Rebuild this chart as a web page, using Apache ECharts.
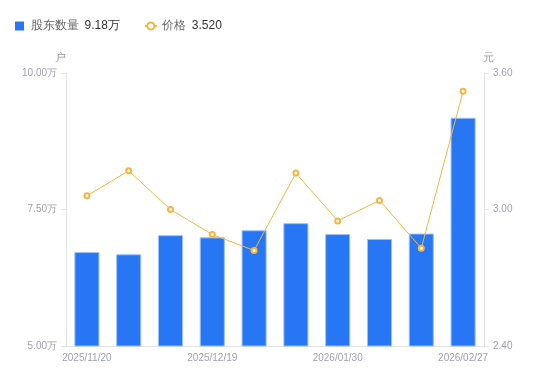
<!DOCTYPE html>
<html><head><meta charset="utf-8">
<script src="https://cdn.jsdelivr.net/npm/echarts@6/dist/echarts.min.js"></script>
<style>html,body{margin:0;padding:0;background:#fff}#c{width:550px;height:381px}</style>
</head><body><div id="c"></div>
<script>
var categories = ['2025/11/20','2025/11/28','2025/12/10','2025/12/19','2025/12/31','2026/01/16','2026/01/30','2026/02/10','2026/02/20','2026/02/27'];
var holders = [6.72, 6.68, 7.03, 6.99, 7.12, 7.25, 7.05, 6.96, 7.06, 9.18];
var prices = [3.06, 3.17, 3.00, 2.89, 2.82, 3.16, 2.95, 3.04, 2.83, 3.52];
var leftTicks = [5, 10];
var rightTicks = [2.4, 3.6];
var legendValues = {'股东数量': '9.18万', '价格': '3.520'};

var chart = echarts.init(document.getElementById('c'));
chart.setOption({
  animation: false,
  legend: {
    left: 10, top: 15, itemGap: 24, itemWidth: 12, itemHeight: 9,
    data: [{name: '股东数量', icon: 'path://M0,0L10,0L10,10L0,10Z', itemStyle: {borderWidth: 0}}, {name: '价格'}],
    formatter: function (n) { return '{n|' + n + '}{v|' + legendValues[n] + '}'; },
    textStyle: {
      rich: {
        n: {color: '#666', fontSize: 12, padding: [0, 6, 0, 0]},
        v: {color: '#333', fontSize: 12}
      }
    }
  },
  grid: {left: 66, right: 66, top: 73, bottom: 35},
  xAxis: {
    type: 'category', data: categories,
    axisLine: {lineStyle: {color: '#e3e3e3'}},
    axisTick: {show: false},
    axisLabel: {interval: 2, color: '#a0a0ae', fontSize: 10, margin: 7}
  },
  yAxis: [{
    type: 'value', name: '户', min: leftTicks[0], max: leftTicks[1], interval: 2.5,
    nameTextStyle: {color: '#999', fontSize: 11, padding: [0, 12, 0, 0]}, nameGap: 10,
    axisLine: {show: true, lineStyle: {color: '#e3e3e3'}},
    axisTick: {show: true, length: 5, lineStyle: {color: '#e3e3e3'}},
    splitLine: {show: false},
    axisLabel: {color: '#a0a0ae', fontSize: 10, margin: 9, formatter: function (v) { return v.toFixed(2) + '万'; }}
  }, {
    type: 'value', name: '元', min: rightTicks[0], max: rightTicks[1], interval: 0.6,
    nameTextStyle: {color: '#999', fontSize: 11, padding: [0, 0, 0, 8]}, nameGap: 10,
    axisLine: {show: true, lineStyle: {color: '#e3e3e3'}},
    axisTick: {show: true, length: 5, lineStyle: {color: '#e3e3e3'}},
    splitLine: {show: false},
    axisLabel: {color: '#a0a0ae', fontSize: 10, margin: 9, formatter: function (v) { return v.toFixed(2); }}
  }],
  series: [{
    name: '股东数量', type: 'bar', data: holders, barWidth: '60%', yAxisIndex: 0,
    itemStyle: {color: '#2777f4', borderColor: '#9cc0fa', borderWidth: 1}
  }, {
    name: '价格', type: 'line', data: prices, yAxisIndex: 1,
    symbol: 'emptyCircle', symbolSize: 5,
    lineStyle: {color: '#f7b53f', width: 1},
    itemStyle: {color: '#f7b53f', borderWidth: 2}
  }]
});
</script></body></html>
